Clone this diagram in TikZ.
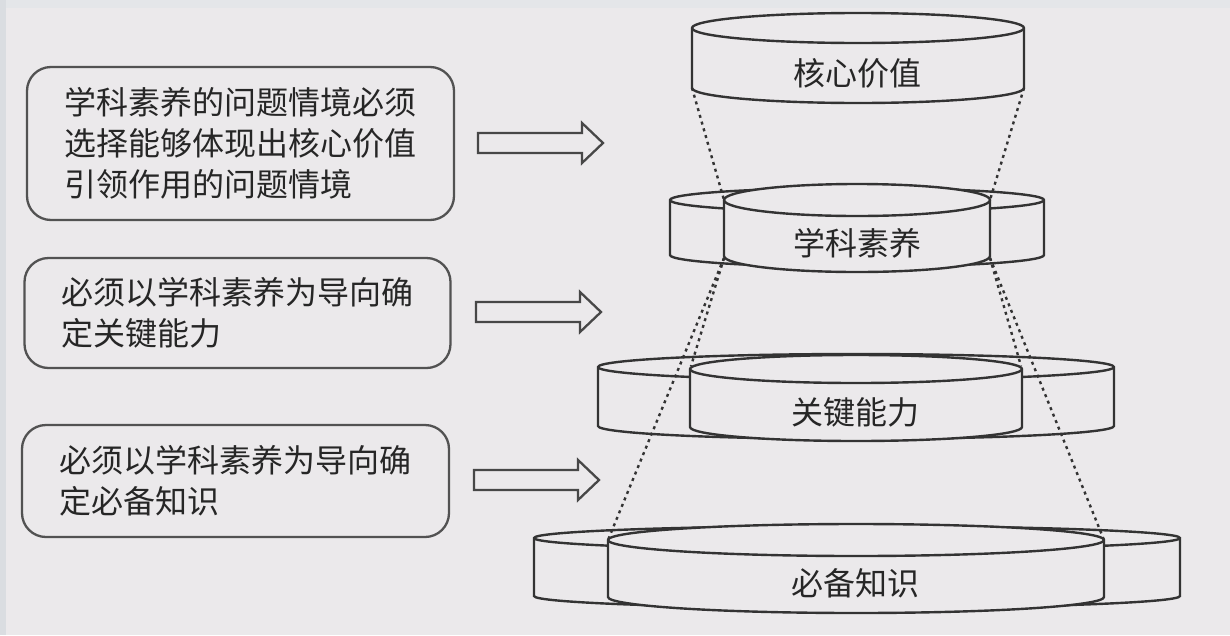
\documentclass[tikz,border=0pt]{standalone}
\usepackage{fontspec}
\setmainfont{Noto Sans CJK SC}
\definecolor{bgc}{HTML}{EBE9EB}
\definecolor{topband}{HTML}{E4E6E9}
\definecolor{leftband}{HTML}{DADDE1}
\definecolor{linec}{HTML}{333333}
\definecolor{textc}{HTML}{262626}
\newcommand\drawcyl[5]{%
  \filldraw[cylline, fill=bgc] (#1-#4,-#2) -- (#1-#4,-#3)
    arc[start angle=180,end angle=360,x radius=#4,y radius=#5] -- (#1+#4,-#2)
    arc[start angle=0,end angle=180,x radius=#4,y radius=#5] -- cycle;
  \draw[cylline] (#1-#4,-#2) arc[start angle=180,end angle=360,x radius=#4,y radius=#5];
}
\tikzset{
  cylline/.style={draw=linec, line width=2.4pt},
  textbox/.style={draw=linec!85, line width=2.3pt, rounded corners=24pt, align=left,
    text=textc, font=\fontsize{32}{41}\selectfont, inner sep=0pt},
  cyllabel/.style={text=textc, font=\fontsize{32}{38}\selectfont, inner sep=0pt},
  dashline/.style={draw=linec, line width=2.4pt, dash pattern=on 3pt off 4pt},
  arrowline/.style={draw=linec!90, line width=2.3pt, line join=miter},
  hollowarrow/.pic={\draw[arrowline] (0,-10) -- (104,-10) -- (104,-20) -- (125,0) -- (104,20) -- (104,10) -- (0,10) -- cycle;}
}
\begin{document}
\begin{tikzpicture}[x=1pt,y=1pt]
\useasboundingbox (0,0) rectangle (1230,-635);
\fill[bgc] (0,0) rectangle (1230,-635);
\fill[topband] (0,0) rectangle (1230,-8);
\fill[leftband] (0,0) rectangle (6,-635);

% left text boxes
\node[textbox, minimum width=427pt, minimum height=153pt] (box1) at (240.5,-143.5)
  {学科素养的问题情境必须\\选择能够体现出核心价值\\引领作用的问题情境};
\node[textbox, minimum width=426pt, minimum height=110pt] (box2) at (237.5,-313)
  {必须以学科素养为导向确\\定关键能力};
\node[textbox, minimum width=427pt, minimum height=112pt] (box3) at (235.5,-481)
  {必须以学科素养为导向确\\定必备知识};

% hollow arrows
\pic (ar1) at (478,-143) {hollowarrow};
\pic (ar2) at (476,-312) {hollowarrow};
\pic (ar3) at (474,-480) {hollowarrow};

% cylinders
\drawcyl{858}{28}{88}{166}{15}
\drawcyl{857}{200}{255}{187}{12}
\drawcyl{857}{200}{256}{133}{16}
\drawcyl{856}{367}{426}{258}{13}
\drawcyl{856}{369}{427}{166}{14}
\drawcyl{857}{538}{596}{323}{12}
\drawcyl{856}{540}{597}{248}{16}

% corner coordinates
\coordinate (c1bl) at (692,-88);
\coordinate (c1br) at (1024,-88);
\coordinate (c2tl) at (724,-200);
\coordinate (c2tr) at (990,-200);
\coordinate (c2bl) at (724,-258);
\coordinate (c2br) at (990,-258);
\coordinate (c3tl) at (691,-366);
\coordinate (c3tr) at (1021,-366);
\coordinate (c4tl) at (608,-540);
\coordinate (c4tr) at (1104,-540);

% dashed guide lines
\draw[dashline] (c1bl) -- (c2tl);
\draw[dashline] (c1br) -- (c2tr);
\draw[dashline] (c2bl) -- (c3tl);
\draw[dashline] (c2br) -- (c3tr);
\draw[dashline] (c2bl) -- (c4tl);
\draw[dashline] (c2br) -- (c4tr);

% cylinder labels
\node[cyllabel] (l1) at (857,-73) {核心价值};
\node[cyllabel] (l2) at (857,-243) {学科素养};
\node[cyllabel] (l3) at (855,-412) {关键能力};
\node[cyllabel] (l4) at (855,-583) {必备知识};
\end{tikzpicture}
\end{document}
